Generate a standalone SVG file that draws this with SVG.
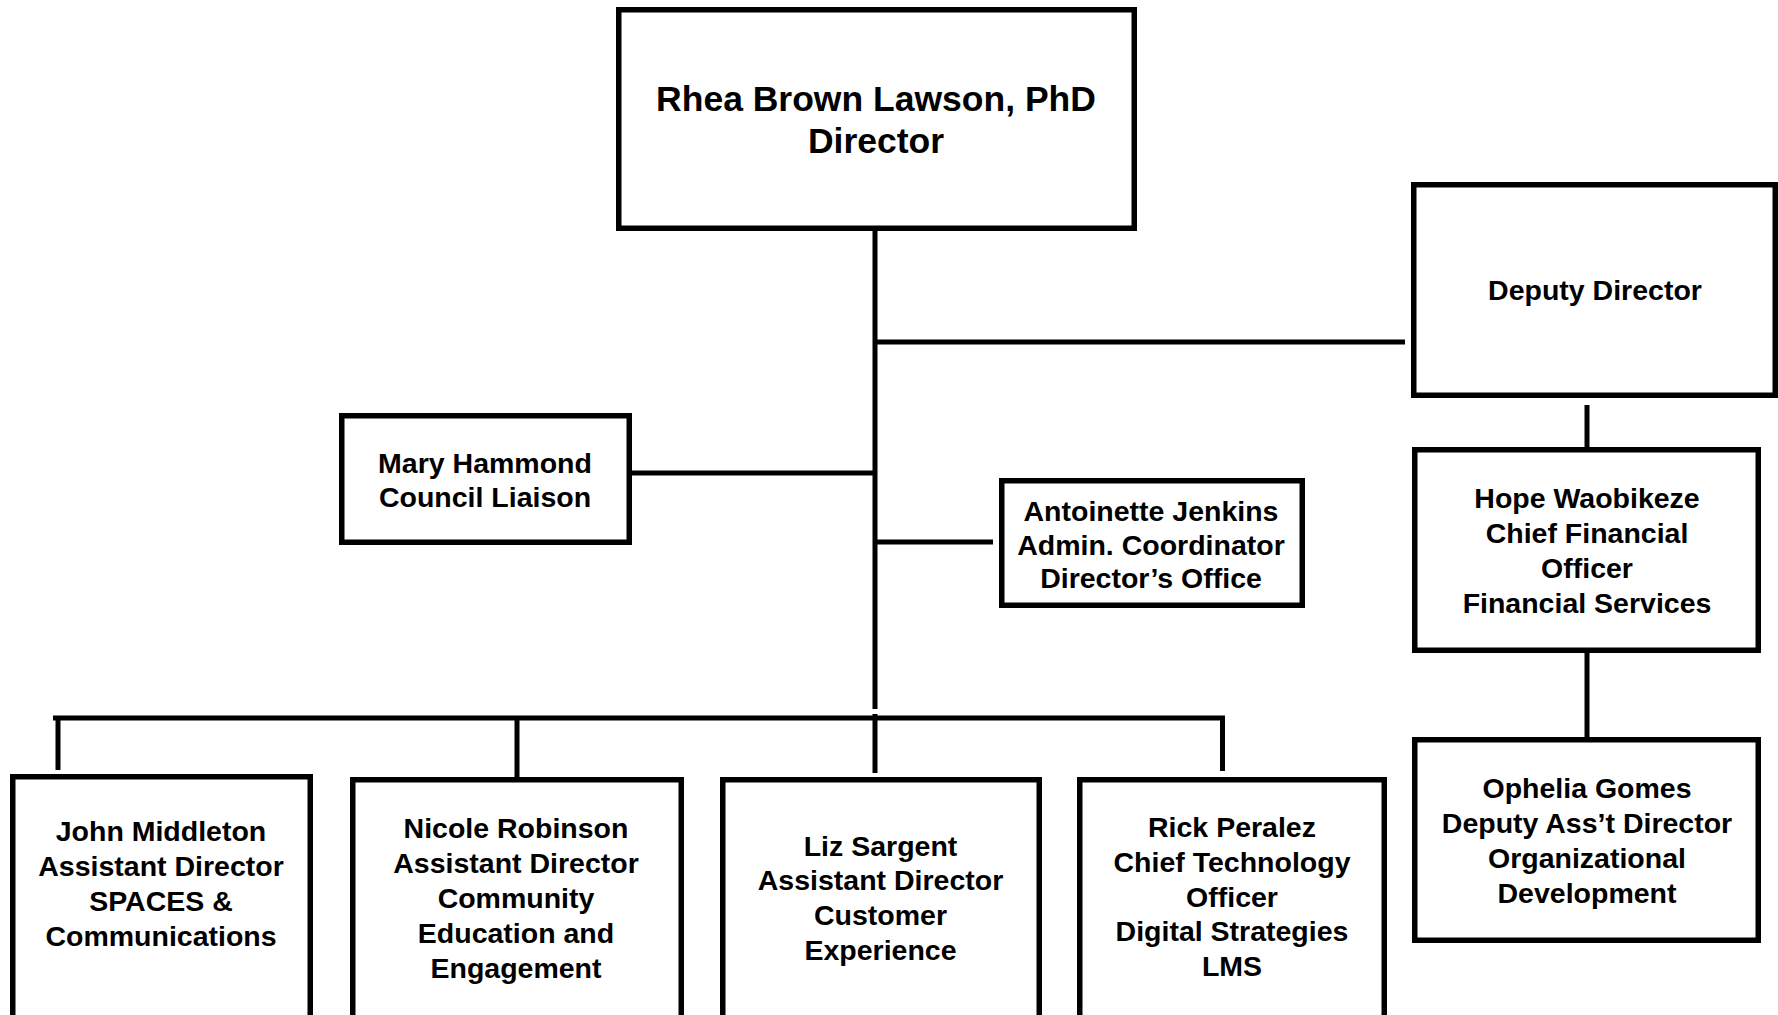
<svg xmlns="http://www.w3.org/2000/svg" width="1778" height="1015" viewBox="0 0 1778 1015">
<style>
.box{fill:#fff;stroke:#000;stroke-width:5.5}
.ln{stroke:#000;stroke-width:5;fill:none;stroke-linecap:butt}
text{font-family:"Liberation Sans",Arial,sans-serif;font-weight:bold;fill:#000;text-anchor:middle;font-size:28.5px}
.big{font-size:35.5px}
</style>
<rect width="1778" height="1015" fill="#fff"/>
<g id="connectors">
<line class="ln" x1="875" y1="231" x2="875" y2="709"/>
<line class="ln" x1="875" y1="342" x2="1405" y2="342"/>
<line class="ln" x1="632" y1="473" x2="875" y2="473"/>
<line class="ln" x1="875" y1="542" x2="993" y2="542"/>
<line class="ln" x1="53" y1="718" x2="1225" y2="718"/>
<line class="ln" x1="875" y1="714" x2="875" y2="773"/>
<line class="ln" x1="58" y1="716" x2="58" y2="770"/>
<line class="ln" x1="517" y1="716" x2="517" y2="778"/>
<line class="ln" x1="1222.5" y1="716" x2="1222.5" y2="771"/>
<line class="ln" x1="1587" y1="405" x2="1587" y2="447"/>
<line class="ln" x1="1587" y1="653" x2="1587" y2="737"/>
</g>
<g id="director">
<rect class="box" x="618.75" y="9.75" width="515.5" height="218.5"/>
<text class="big" x="876" y="111">Rhea Brown Lawson, PhD</text>
<text class="big" x="876" y="153">Director</text>
</g>
<g id="deputy">
<rect class="box" x="1413.75" y="184.75" width="361.5" height="210.5"/>
<text x="1595" y="300">Deputy Director</text>
</g>
<g id="cfo">
<rect class="box" x="1414.75" y="449.75" width="343.5" height="200.5"/>
<text x="1587" y="508">Hope Waobikeze</text>
<text x="1587" y="543">Chief Financial</text>
<text x="1587" y="578">Officer</text>
<text x="1587" y="613">Financial Services</text>
</g>
<g id="ophelia">
<rect class="box" x="1414.75" y="739.75" width="343.5" height="200.5"/>
<text x="1587" y="798">Ophelia Gomes</text>
<text x="1587" y="833">Deputy Ass’t Director</text>
<text x="1587" y="868">Organizational</text>
<text x="1587" y="903">Development</text>
</g>
<g id="mary">
<rect class="box" x="341.75" y="415.75" width="287.5" height="126.5"/>
<text x="485" y="473">Mary Hammond</text>
<text x="485" y="507">Council Liaison</text>
</g>
<g id="antoinette">
<rect class="box" x="1001.75" y="480.75" width="300.5" height="124.5"/>
<text x="1151" y="521">Antoinette Jenkins</text>
<text x="1151" y="555">Admin. Coordinator</text>
<text x="1151" y="588">Director’s Office</text>
</g>
<g id="john">
<rect class="box" x="12.75" y="776.75" width="297.5" height="260"/>
<text x="161" y="841">John Middleton</text>
<text x="161" y="876">Assistant Director</text>
<text x="161" y="911">SPACES &amp;</text>
<text x="161" y="946">Communications</text>
</g>
<g id="nicole">
<rect class="box" x="352.75" y="779.75" width="328.5" height="260"/>
<text x="516" y="838">Nicole Robinson</text>
<text x="516" y="873">Assistant Director</text>
<text x="516" y="908">Community</text>
<text x="516" y="943">Education and</text>
<text x="516" y="978">Engagement</text>
</g>
<g id="liz">
<rect class="box" x="722.75" y="779.75" width="316.5" height="260"/>
<text x="880.5" y="856">Liz Sargent</text>
<text x="880.5" y="890">Assistant Director</text>
<text x="880.5" y="925">Customer</text>
<text x="880.5" y="960">Experience</text>
</g>
<g id="rick">
<rect class="box" x="1079.75" y="779.75" width="304.5" height="260"/>
<text x="1232" y="837">Rick Peralez</text>
<text x="1232" y="872">Chief Technology</text>
<text x="1232" y="907">Officer</text>
<text x="1232" y="941">Digital Strategies</text>
<text x="1232" y="976">LMS</text>
</g>
</svg>
